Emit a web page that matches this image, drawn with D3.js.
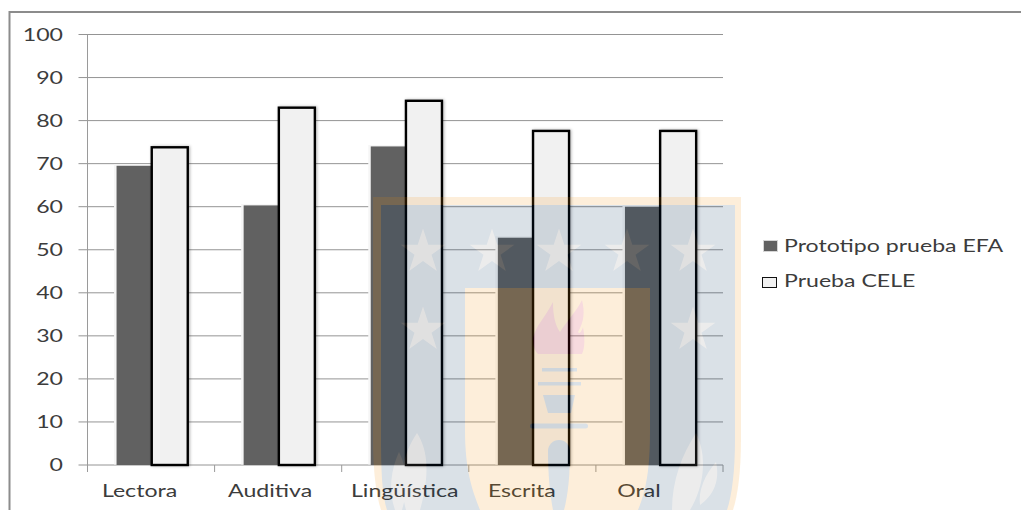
<!DOCTYPE html>
<html lang="es">
<head>
<meta charset="utf-8">
<title>Prototipo prueba EFA y Prueba CELE</title>
<script src="https://cdn.jsdelivr.net/npm/d3@7"></script>
<style>
  html, body { margin: 0; padding: 0; background: #fff; }
  svg { display: block; }
  text { font-family: "Lato", sans-serif; fill: #3c3c3c; }
</style>
</head>
<body>
<svg id="chart" width="1021" height="510"></svg>
<script>
const categories = ["Lectora", "Auditiva", "Lingüística", "Escrita", "Oral"];
const seriesNames = ["Prototipo prueba EFA", "Prueba CELE"];
const efaValues = [69.5, 60.3, 74, 52.8, 60];
const celeValues = [73.8, 83, 84.6, 77.6, 77.6];
const yTicks = [0, 10, 20, 30, 40, 50, 60, 70, 80, 90, 100];

const width = 1021, height = 510;
const plot = { left: 87.5, right: 723, top: 34.5, bottom: 465 };
const svg = d3.select("#chart");

const x = d3.scaleBand().domain(categories).range([plot.left, plot.right]);
const y = d3.scaleLinear().domain([0, 100]).range([plot.bottom, plot.top]);
const efaW = 34.5, celeW = 36;
const labelShift = [-11.5, -8, -0.5, -10.5, -20.5];
const textStretch = 1.36, legendStretch = 1.32;

const defs = svg.append("defs");
defs.append("filter").attr("id", "soft")
  .attr("x", "-20%").attr("y", "-5%").attr("width", "140%").attr("height", "110%")
  .append("feDropShadow")
  .attr("dx", 1).attr("dy", 0).attr("stdDeviation", 1.5)
  .attr("flood-color", "#000").attr("flood-opacity", 0.3);

// Outer frame: only the top and left edges fall inside the page
svg.append("path")
  .attr("d", `M9.5,${height}V12H${width}`)
  .attr("fill", "none").attr("stroke", "#8c8c8c").attr("stroke-width", 2);

// Horizontal gridlines and value labels
svg.append("g").selectAll("line").data(yTicks).join("line")
  .attr("x1", plot.left - 9).attr("x2", plot.right)
  .attr("y1", d => y(d)).attr("y2", d => y(d))
  .attr("stroke", "#949494").attr("stroke-width", 1);

svg.append("g").selectAll("text").data(yTicks).join("text")
  .attr("transform", d => `translate(63,${y(d) + 6}) scale(${textStretch},1)`)
  .attr("text-anchor", "end").attr("font-size", 17)
  .text(d => d);

// Vertical axis line and category ticks
svg.append("line")
  .attr("x1", plot.left).attr("x2", plot.left)
  .attr("y1", plot.top).attr("y2", plot.bottom + 7)
  .attr("stroke", "#9a9a9a");
svg.append("g").selectAll("line")
  .data(categories)
  .join("line")
  .attr("x1", c => x(c) + x.bandwidth()).attr("x2", c => x(c) + x.bandwidth())
  .attr("y1", plot.bottom).attr("y2", plot.bottom + 7)
  .attr("stroke", "#9a9a9a");

// First series: solid dark bars with a pale halo
const centre = c => x(c) + x.bandwidth() / 2;
svg.append("g").selectAll("rect.halo").data(categories).join("rect")
  .attr("class", "halo")
  .attr("x", c => centre(c) - efaW - 2.5)
  .attr("y", (c, i) => y(efaValues[i]) - 1.5)
  .attr("width", efaW + 2.5)
  .attr("height", (c, i) => y(0) - y(efaValues[i]) + 1)
  .attr("fill", "#f6f6f6");
svg.append("g").selectAll("rect.efa").data(categories).join("rect")
  .attr("class", "efa")
  .attr("x", c => centre(c) - efaW)
  .attr("y", (c, i) => y(efaValues[i]))
  .attr("width", efaW)
  .attr("height", (c, i) => y(0) - y(efaValues[i]))
  .attr("fill", "#616161");

// Second series: pale bars with a heavy black outline
svg.append("g").selectAll("rect.cele").data(categories).join("rect")
  .attr("class", "cele")
  .attr("x", c => centre(c) + 0.7)
  .attr("y", (c, i) => y(celeValues[i]))
  .attr("width", celeW)
  .attr("height", (c, i) => y(0) - y(celeValues[i]))
  .attr("fill", "#f1f1f1")
  .attr("stroke", "#000").attr("stroke-width", 2.4)
  .attr("filter", "url(#soft)");

// Category labels
svg.append("g").selectAll("text").data(categories).join("text")
  .attr("transform", (c, i) => `translate(${centre(c) + labelShift[i]},497) scale(${textStretch},1)`)
  .attr("text-anchor", "middle").attr("font-size", 17)
  .text(c => c);

// Legend
const legendBase = [252, 287];
const legend = svg.append("g").selectAll("g").data(seriesNames).join("g");
legend.append("rect")
  .attr("x", (d, i) => i ? 762.5 : 763.5)
  .attr("y", (d, i) => legendBase[i] - (i ? 9.5 : 11.5))
  .attr("width", 14).attr("height", (d, i) => i ? 10 : 11)
  .attr("fill", (d, i) => i ? "#f1f1f1" : "#616161")
  .attr("stroke", (d, i) => i ? "#111" : "#d5d5d5");
legend.append("text")
  .attr("transform", (d, i) => `translate(784,${legendBase[i]}) scale(${legendStretch},1)`)
  .attr("font-size", 17.5)
  .text(d => d);

// University crest printed translucently over the chart
const crest = svg.append("g").attr("opacity", 0.14);
const ORANGE = "#f89000", NAVY = "#00305c", GREY = "#828282", CRIMSON = "#c8001e";

crest.append("path")
  .attr("d", "M373,197H741V440C741,470 738,495 733,510H381C376,495 373,470 373,440Z")
  .attr("fill", ORANGE);
crest.append("path")
  .attr("d", "M381,205H735V440C735,470 732,495 727,510H387C382,495 381,470 381,440Z")
  .attr("fill", NAVY);
crest.append("path")
  .attr("d", "M465,288H650V430C650,470 646,490 638,510H480C472,490 465,470 465,430Z")
  .attr("fill", ORANGE);

// Stars
const starCentres = [[423, 252], [492, 252], [559, 252], [627, 252], [693, 252], [423, 330], [693, 330]];
const star = d3.symbol().type(d3.symbolStar).size(620);
crest.selectAll("path.star").data(starCentres).join("path")
  .attr("class", "star")
  .attr("transform", d => `translate(${d[0]},${d[1]})`)
  .attr("d", star)
  .attr("fill", GREY);

// Flame
crest.append("path")
  .attr("d", "M533,338C536,325 545,318 553,302C553,315 555,325 560,332C566,322 576,312 582,300C585,312 584,322 578,332C580,335 582,330 583,327C585,338 585,348 582,354H538C534,350 533,345 533,338Z")
  .attr("fill", CRIMSON);

// Torch
crest.append("rect").attr("x", 542).attr("y", 368).attr("width", 35).attr("height", 3.5).attr("fill", NAVY);
crest.append("rect").attr("x", 538).attr("y", 382).attr("width", 43).attr("height", 3.5).attr("fill", NAVY);
crest.append("path").attr("d", "M543,395H575L571,413H548Z").attr("fill", NAVY);
crest.append("rect").attr("x", 530).attr("y", 423.5).attr("width", 58).attr("height", 5).attr("rx", 2.5).attr("fill", NAVY);
crest.append("path").attr("d", "M548,451A11,11 0 0 1 570,451C570,475 568,495 564,510H553C550,495 548,475 548,451Z").attr("fill", NAVY);

// Laurel leaves at the foot of the shield
const leaves = [
  "M406,510C398,480 402,455 417,433C428,450 430,475 420,510Z",
  "M395,510C388,490 391,470 399,452C408,470 408,490 402,510Z",
  "M672,510C672,480 682,455 696,433C707,455 705,485 690,510Z",
  "M700,505C698,490 705,475 716,462C720,480 714,495 700,505Z"
];
crest.selectAll("path.leaf").data(leaves).join("path")
  .attr("class", "leaf").attr("d", d => d).attr("fill", GREY);
</script>
</body>
</html>
